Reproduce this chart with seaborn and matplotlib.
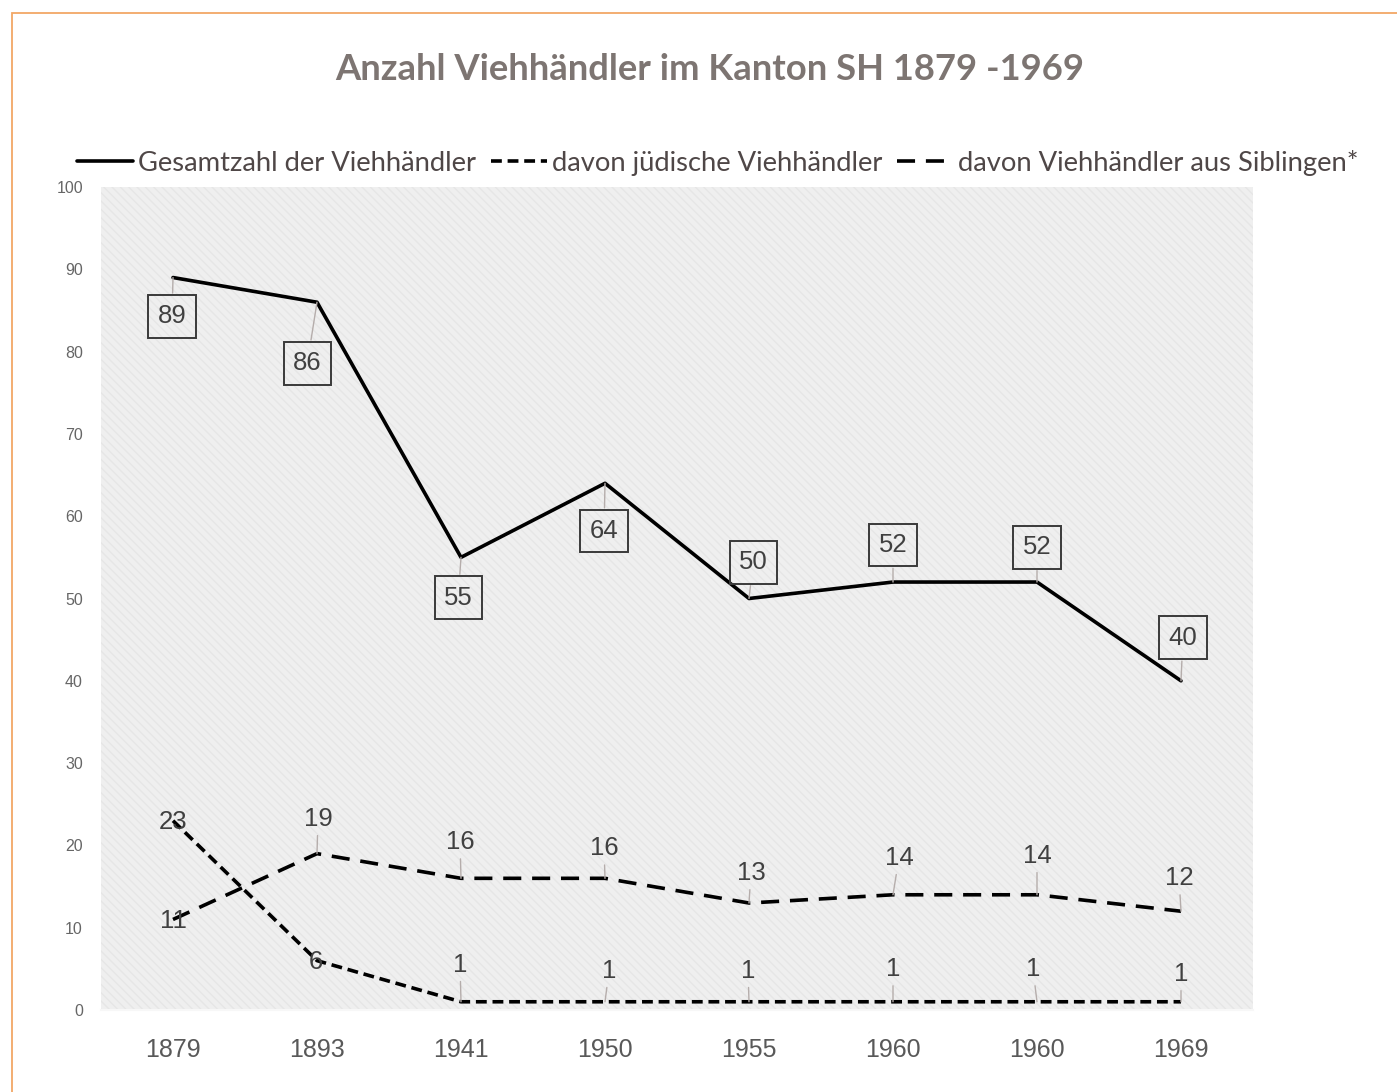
import matplotlib
matplotlib.use("Agg")
import matplotlib.pyplot as plt
import seaborn as sns
import pandas as pd
from matplotlib.patches import Rectangle
from matplotlib.lines import Line2D

# ---------------- data ----------------
years = ["1879", "1893", "1941", "1950", "1955", "1960", "1960", "1969"]
gesamt = [89, 86, 55, 64, 50, 52, 52, 40]
juedisch = [23, 6, 1, 1, 1, 1, 1, 1]
siblingen = [11, 19, 16, 16, 13, 14, 14, 12]
series_names = ["Gesamtzahl der Viehhändler",
                "davon jüdische Viehhändler",
                "davon Viehhändler aus Siblingen*"]
title_text = "Anzahl Viehhändler im Kanton SH 1879 -1969"
yticks = [0, 10, 20, 30, 40, 50, 60, 70, 80, 90, 100]

# ---------------- layout (label offsets in points) ----------------
off_g = [(-0.7, -28), (-7, -44), (-2, -29), (-0.7, -34.5), (3, 26), (0, 26.6), (0, 25), (1.4, 31)]
off_s = [(0, -1), (0.7, 25), (-0.7, 26), (-0.7, 21.6), (1.4, 21.6), (4.3, 26.6), (0, 28), (-1.4, 23.8)]
off_j = [(0, -1), (-0.7, -1), (-0.7, 26.6), (2.9, 22.3), (-0.7, 22.3), (0, 23.5), (-2.9, 23.5), (0, 20)]

sns.set_style("white")
plt.rcParams['font.family'] = ['Liberation Sans', 'DejaVu Sans']

W, H = 1397, 1092
fig = plt.figure(figsize=(W / 100, H / 100), dpi=100)
fig.patch.set_facecolor("white")
renderer = fig.canvas.get_renderer()

ax = fig.add_axes([101 / W, 1 - 1010 / H, (1253 - 101) / W, (1010 - 187) / H])
ax.set_facecolor("#efefef")
ax.add_patch(Rectangle((0, 0), 1, 1, transform=ax.transAxes, facecolor="none",
                       edgecolor="#e6e6e6", hatch="\\\\\\\\", linewidth=0, zorder=0))

x = list(range(len(years)))
df = pd.DataFrame({"pos": x, "g": gesamt, "j": juedisch, "s": siblingen})

lw = 2.6
sty_j = (0, (3.0, 1.6))
sty_s = (0, (5.0, 3.0))
sns.lineplot(data=df, x="pos", y="g", ax=ax, color="black", linewidth=lw, zorder=3)
sns.lineplot(data=df, x="pos", y="j", ax=ax, color="black", linewidth=lw, linestyle=sty_j, zorder=3)
sns.lineplot(data=df, x="pos", y="s", ax=ax, color="black", linewidth=lw, linestyle=sty_s, zorder=3)

ax.set_xlim(-0.5, len(years) - 0.5)
ax.set_ylim(0, 100)
ax.set_xlabel("")
ax.set_ylabel("")
ax.set_xticks(x)
ax.set_xticklabels(years)
ax.set_yticks(yticks)
ax.set_yticklabels([str(v) for v in yticks])
ax.tick_params(axis="x", length=0, pad=20, labelsize=18, labelcolor="#595959")
ax.tick_params(axis="y", length=0, pad=13, labelsize=11.5, labelcolor="#666666")
for s in ["top", "right", "left"]:
    ax.spines[s].set_visible(False)
ax.spines["bottom"].set_color("#f7f7f7")
ax.spines["bottom"].set_linewidth(1.5)
ax.grid(False)

lab_col = "#404040"
lead_col = "#b5adab"


def label(xi, yi, txt, off, boxed):
    dist = (off[0] ** 2 + off[1] ** 2) ** 0.5
    kw = dict(xy=(xi, yi), xytext=off, textcoords="offset points",
              ha="center", va="center", fontsize=18.5, color=lab_col, zorder=5)
    if boxed:
        kw["bbox"] = dict(boxstyle="square,pad=0.36", fc="none", ec="#3a3a3a", lw=1.4)
    if dist > 8:
        kw["arrowprops"] = dict(arrowstyle="-", color=lead_col, lw=1.0,
                                shrinkA=1, shrinkB=0)
    ax.annotate(txt, **kw)


for xi, v, o in zip(x, gesamt, off_g):
    label(xi, v, str(v), o, True)
for xi, v, o in zip(x, siblingen, off_s):
    label(xi, v, str(v), o, False)
for xi, v, o in zip(x, juedisch, off_j):
    label(xi, v, str(v), o, False)

# title (size fitted to reference width of ~750 px)
tfam = ["Lato", "DejaVu Sans"]
t = fig.text(710 / W, 1 - 70 / H, title_text, ha="center", va="center",
             fontsize=24, fontweight="bold", color="#7d7572", family=tfam)
tw = t.get_window_extent(renderer).width
t.set_fontsize(24 * 750 / tw)

# legend (font size fitted to reference text widths, ~1077 px total)
lfam = ["Lato", "DejaVu Sans"]
probe = fig.text(0, 0, "".join(series_names), fontsize=20, family=lfam)
pw = probe.get_window_extent(renderer).width
probe.remove()
lsize = 20 * 1077 / pw

handles = [Line2D([0], [0], color="black", lw=lw),
           Line2D([0], [0], color="black", lw=lw, linestyle=sty_j),
           Line2D([0], [0], color="black", lw=lw, linestyle=sty_s)]
hl = 56 * 0.72 / lsize
leg = fig.legend(handles, series_names, loc="center", ncol=3,
                 bbox_to_anchor=(718 / W, 1 - 163 / H), frameon=False,
                 handlelength=hl, handletextpad=5 * 0.72 / lsize,
                 columnspacing=15 * 0.72 / lsize,
                 prop={"family": lfam, "size": lsize})
for tt in leg.get_texts():
    tt.set_color("#4f4747")

# outer orange frame
fig.add_artist(Rectangle((12 / W, -0.05), 1.2, 1 - 13 / H + 0.05, transform=fig.transFigure,
                         fill=False, edgecolor="#f2a766", linewidth=1.3))

fig.savefig("out.png", dpi=100, facecolor="white")
